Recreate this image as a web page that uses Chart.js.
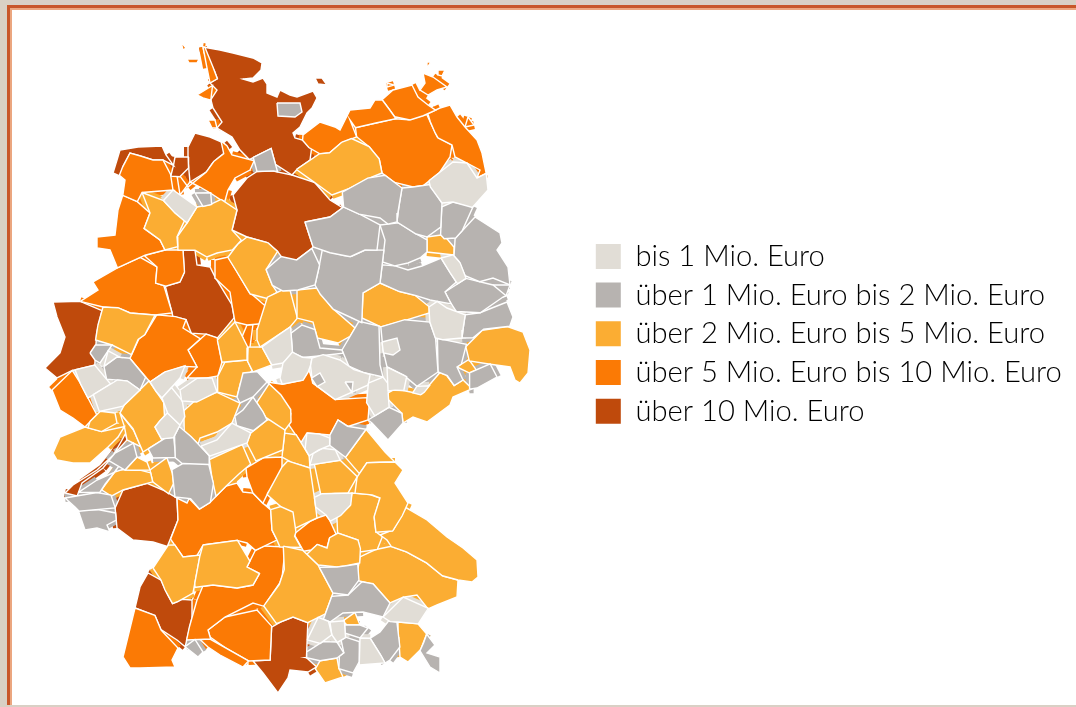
<!DOCTYPE html>
<html>
<head>
<meta charset="utf-8">
<title>Karte</title>
<script src="https://cdn.jsdelivr.net/npm/chart.js@4/dist/chart.umd.min.js"></script>
<style>
html, body { margin: 0; padding: 0; background: #d9d0c5; overflow: hidden; }
#frame { position: absolute; left: 7px; top: 5px; right: 0; height: 700px; box-sizing: border-box; background: #fff;
  border-left: 3px solid #c8562a; border-top: 3px solid #c8562a; box-shadow: inset 2px 2px 0 #eba67f; }
#map { position: absolute; left: 0; top: 0; }
</style>
</head>
<body>
<div id="frame"></div>
<canvas id="map" width="1076" height="707"></canvas>
<script>
var categories = ['bis 1 Mio. Euro', 'über 1 Mio. Euro bis 2 Mio. Euro', 'über 2 Mio. Euro bis 5 Mio. Euro', 'über 5 Mio. Euro bis 10 Mio. Euro', 'über 10 Mio. Euro'];
var colors = ['#e1ddd6', '#b7b3b0', '#fbad33', '#fb7a05', '#bf4a0c'];

// region outlines as x,y pairs on the map's own scale
var bis1 = [
  [430,183,453,162,467,163,477,180,487,175,488,190,473,203,453,200,443,203,430,187],
  [443,257,453,255,462,262,465,277,457,283,450,273],
  [430,307,437,303,447,308,465,313,462,330,460,338,443,337,435,338,430,320],
  [383,342,397,338,400,350,393,355,383,353],
  [415,388,428,385,428,395,420,397,413,392],
  [385,370,405,378,405,387,395,388,390,392,387,390],
  [368,383,383,378,393,387,387,393,387,405,373,413,366,403],
  [313,357,323,353,340,360,353,372,370,375,368,385,337,398,330,393,312,383,310,365],
  [280,378,283,363,293,352,302,358,312,358,312,365,305,370,303,380,282,382],
  [262,347,278,335,292,328,292,352,283,363,273,367],
  [167,200,173,190,197,203,195,213,187,223,173,215],
  [180,390,197,378,213,382,217,392,197,403,183,400],
  [163,400,172,388,182,403,187,417,183,425,168,413],
  [150,383,165,372,185,365,180,378,172,387,162,398,155,393],
  [155,418,167,413,180,425,175,437,163,438,155,427],
  [95,397,117,383,127,382,140,390,120,405,98,410],
  [103,365,107,350,120,357,117,357],
  [75,370,95,367,110,383,90,397,82,383],
  [200,447,217,440,233,425,250,432,247,443,210,455],
  [305,432,320,430,330,438,330,445,317,447,310,455,307,447],
  [313,453,322,447,337,447,340,458,318,463,310,465],
  [317,497,322,493,350,492,352,505,342,517,333,520,325,512,317,507],
  [383,617,403,595,428,608,417,625,397,620,390,620],
  [310,640,318,617,328,623,330,635,320,643],
  [330,623,343,623,345,637,338,642,332,635],
  [360,640,368,640,378,657,382,665,362,667]
];
var ueber1 = [
  [253,157,270,147,273,157,278,170,273,173,257,170],
  [277,103,300,103,302,112,295,117,278,116],
  [195,193,210,195,212,205,203,203],
  [343,195,367,177,383,178,400,187,395,213,397,222,388,225,380,218,360,212,345,205],
  [402,188,413,188,427,185,442,203,440,227,427,237,417,232,397,222,397,205],
  [445,207,453,202,475,208,460,228,455,238,448,237,440,232],
  [475,217,500,233,502,243,497,250,508,267,510,283,493,278,480,280,467,275,460,260,453,257,455,242,460,232],
  [305,222,330,217,343,207,360,215,380,223,377,247,365,248,352,253,330,253,313,247],
  [267,270,280,257,297,262,313,250,320,265,315,285,298,290,283,292,273,285],
  [320,255,345,258,353,258,365,250,382,250,380,283,363,293,362,322,352,318,333,310,317,297,315,285,320,270],
  [380,225,397,225,417,235,427,240,424,252,420,258,408,263,395,262,383,262,385,240],
  [383,265,395,266,408,270,422,266,440,256,445,265,455,283,445,292,452,303,430,300,417,293,400,290,380,283],
  [445,292,467,278,493,283,505,293,503,300,480,312,457,310,450,303],
  [493,285,510,285,508,295,503,297],
  [465,315,480,313,507,302,513,317,512,322,483,325,473,338,462,338,463,327],
  [382,330,405,320,430,322,435,340,437,373,417,387,405,373,387,367,382,350],
  [437,340,465,343,462,365,453,367,465,377,455,385,448,375,438,372],
  [470,373,490,365,497,377,477,388,470,387],
  [371,420,390,407,405,413,400,425,388,440,372,423],
  [293,333,302,325,313,330,320,348,340,350,340,355,317,352,303,358,293,353],
  [342,350,358,323,378,328,380,365,383,377,363,372,350,365],
  [330,435,338,418,347,427,363,427,357,443,345,457,330,447],
  [237,397,243,373,257,372,265,383,253,397,243,400],
  [237,417,243,410,253,397,267,410,267,420,253,430,237,425],
  [103,367,117,357,127,357,143,380,140,390,127,380,108,378],
  [90,353,97,345,112,345,100,363,92,360],
  [112,463,115,453,132,445,137,457,125,470],
  [80,493,97,480,112,470,123,460,135,462,123,470,112,470,103,482,100,490],
  [65,498,97,492,112,493,113,507,103,505,80,510,75,507],
  [77,512,97,505,115,513,118,520,107,525,110,532,97,528,85,530],
  [175,468,183,462,210,465,217,483,210,502,200,510,193,497,177,493],
  [147,447,165,440,173,437,177,447,173,460,153,458],
  [177,437,182,428,190,437,210,457,207,467,182,463,175,457],
  [187,647,195,642,203,652,198,657],
  [320,567,337,567,350,567,358,565,360,580,348,595,335,592,323,578],
  [323,620,333,597,348,595,362,582,373,585,390,603,383,617,363,612,343,613,330,622],
  [422,642,430,635,435,645,427,653,440,657,440,673,430,667,422,653],
  [370,638,380,632,387,623,397,623,402,647,390,660,385,663,380,653],
  [345,625,362,625,368,628,360,638,348,633],
  [308,652,323,642,337,642,343,652,337,657,317,660,310,658],
  [342,642,348,637,358,642,358,662,353,673,340,668,340,657,345,652]
];
// small pieces that sit inside a lighter region
var ueber1Enklaven = [
  [313,378,320,373,325,382,318,385],
  [345,382,353,382,350,388]
];
var ueber2 = [
  [427,237,443,233,447,243,457,248,455,255,427,252],
  [297,170,320,153,330,155,342,142,352,140,368,148,380,158,382,173,370,175,347,188,332,195,313,180],
  [143,193,163,200,165,207,183,223,175,237,175,247,165,250,162,237,143,228,150,213],
  [222,197,237,210,232,230,240,237,227,248,217,253,207,257,197,250,178,250,177,237,187,223,197,207,210,207],
  [480,328,507,323,523,332,530,350,528,373,520,383,515,380,510,367,493,363,470,360,468,347],
  [363,293,380,283,400,292,415,295,428,305,428,313,407,318,380,327,363,318,363,303],
  [457,367,467,360,475,367,468,373],
  [388,390,403,390,423,397,440,372,447,373,455,387,463,380,472,392,453,397,450,405,427,422,413,417,403,423,402,413,388,400],
  [297,290,320,288,332,308,355,328,353,338,338,343,317,338,313,322,298,318],
  [257,340,257,330,267,297,280,293,290,290,297,320,290,328,260,345],
  [233,240,247,237,268,243,277,252,265,270,272,285,277,292,262,297,248,297,235,270,228,258],
  [97,325,103,307,118,305,130,315,155,315,145,335,135,338,128,353,112,345,95,340],
  [218,340,233,325,247,347,247,360,223,362],
  [248,347,262,347,268,367,253,377,248,360],
  [218,378,225,362,247,360,253,370,240,383,237,397,217,392],
  [268,385,280,396,293,408,295,423,285,430,267,417,260,400],
  [187,410,193,407,217,393,240,403,232,423,217,432,200,438,197,445,187,427],
  [250,433,267,420,280,417,285,430,280,450,253,457,248,447],
  [123,403,147,383,162,403,162,413,155,427,162,440,143,452,135,427,120,413],
  [88,420,100,410,115,413,117,423,102,430,88,428],
  [53,453,60,437,85,427,102,432,123,427,118,437,108,447,90,463,73,463,57,460],
  [120,413,135,430,140,447,130,440,125,427],
  [125,470,137,457,147,462,150,470,135,470],
  [103,490,117,473,140,470,150,473,152,482,132,488,122,488,115,495],
  [150,470,167,460,175,473,178,483,168,495,153,483],
  [213,460,243,447,250,463,240,473,227,487,217,497,213,477],
  [203,545,237,542,252,562,245,567,262,573,253,585,237,588,213,583,197,588,195,583,202,557],
  [153,568,168,545,178,543,183,557,200,555,193,593,178,603,173,603,165,590,162,578],
  [283,548,303,550,318,565,333,593,323,613,308,622,293,615,275,622,263,605,280,585,285,570],
  [272,510,280,507,293,512,295,530,293,537,302,547,280,545,277,538,272,530],
  [268,495,280,467,287,462,310,470,315,500,316,515,296,528,280,505],
  [283,433,293,437,310,457,310,468,290,467,283,457],
  [315,468,320,462,343,460,355,475,348,490,335,492,320,493],
  [357,477,367,463,380,463,397,460,403,470,395,483,408,503,400,515,393,532,377,532,375,517,380,498,373,493,355,493],
  [345,458,367,428,385,452,395,462,367,462,357,472],
  [308,553,317,545,327,550,330,538,338,533,358,540,362,548,360,563,345,567,337,567,318,565],
  [337,532,338,520,352,508,352,493,370,493,380,498,373,518,375,532,380,540,377,548,363,552,358,540],
  [380,535,397,532,407,508,427,520,447,537,463,548,477,560,478,577,472,582,460,578,443,575,427,562,407,550,392,545,387,540],
  [360,568,363,557,375,550,390,547,407,552,427,563,443,577,458,580,457,597,437,605,430,610,417,595,403,597,390,603,375,583,360,582],
  [398,622,408,620,418,623,427,633,422,650,408,662,400,657,403,637],
  [343,618,355,613,360,625,347,625],
  [320,660,337,658,338,668,343,677,325,683,317,673]
];
var ueber5 = [
  [181,42,186,48,183,50],
  [187,59,199,59,197,63,189,63],
  [200,47,205,47,212,68,217,78,208,82,207,68],
  [197,95,210,88,212,100,203,98],
  [208,120,215,120,217,128,212,128],
  [122,167,130,152,140,155,153,160,163,158,168,173,172,187,173,190,143,190,138,200,123,195,125,180,120,173],
  [222,137,230,145,232,155,250,162,250,170,235,178,228,190,226,200,218,196,215,193,200,187,187,185,180,195,177,180,182,178,188,187,208,175,214,163,225,155],
  [303,135,320,122,335,127,340,130,350,110,370,108,375,100,382,100,388,112,396,118,375,122,355,127,350,120,355,137,340,142,330,153,320,155,310,147,303,140],
  [382,98,393,90,412,85,418,97,428,105,437,113,423,115,410,120,397,115,383,105],
  [440,108,450,105,457,117,462,127,477,140,482,153,487,173,477,178,480,170,467,163,455,157,453,145,437,140,433,133,433,120,428,114],
  [423,73,433,77,447,87,437,90,428,95,420,90,425,83],
  [438,70,445,70,442,76,438,75],
  [427,62,431,62,427,68],
  [468,117,474,125,465,127],
  [387,83,394,85,387,87],
  [355,128,363,123,370,128,377,122,395,118,408,122,427,115,435,127,435,138,452,145,450,157,440,173,423,183,413,187,395,182,382,173,382,160,370,147,357,138],
  [122,195,140,203,150,213,143,230,160,240,165,250,145,255,117,267,110,250,97,248,97,237,115,235,118,210],
  [143,253,165,250,183,250,185,272,180,282,165,283,155,283,158,267],
  [80,302,98,290,93,282,117,268,140,257,157,267,155,285,163,288,172,313,155,315,130,313,120,307,103,307],
  [215,260,230,258,247,293,270,310,270,323,247,325,235,322,234,305,230,292,217,277],
  [247,325,253,325,250,345,245,350,245,335],
  [128,360,138,337,147,335,157,317,175,318,187,317,183,328,200,338,187,350,197,367,183,365,163,372,150,382,137,370],
  [188,350,205,337,217,337,222,363,220,377,207,380,187,378,197,367],
  [52,390,73,372,80,383,95,413,85,427,73,418,60,410],
  [267,382,280,385,303,382,310,370,312,385,327,393,337,403,363,397,365,410,368,420,348,427,338,420,330,435,307,432,302,442,292,428,297,413,280,393],
  [245,467,262,453,282,457,282,478,268,492,262,505,253,492,247,477],
  [178,498,187,503,190,495,198,510,210,503,225,485,237,483,243,492,253,493,262,503,270,507,272,530,277,540,257,552,247,543,237,540,203,543,197,555,183,557,173,540,178,520],
  [197,600,203,588,213,585,237,588,253,585,262,577,260,572,247,567,253,553,263,543,287,547,288,560,280,575,282,583,267,600,263,607,253,603,225,617,207,630,210,640,187,640,190,627],
  [123,657,133,610,155,615,160,632,178,648,172,660,175,667,140,668,130,668],
  [200,640,210,638,247,663,243,667,220,655,208,647],
  [208,630,225,617,257,610,270,623,270,660,250,662,227,645,210,637],
  [293,532,312,525,317,518,323,517,330,520,335,532,328,538,327,548,318,543,308,547,303,552,293,535]
];
var ueber10 = [
  [203,47,220,50,233,53,253,58,262,63,261,70,253,78,243,79,253,82,263,78,267,84,267,93,277,97,280,90,290,95,297,97,313,91,317,98,312,108,307,113,300,127,293,133,295,138,302,140,310,152,308,157,297,168,293,173,273,165,273,147,260,157,250,157,240,150,232,137,217,128,222,122,213,108,210,103,217,90,210,83,220,78,217,70,203,53],
  [315,78,322,78,327,85,318,84],
  [113,173,117,160,120,150,138,147,162,146,166,155,171,165,163,160,153,160,141,156,130,153,122,165,122,175],
  [175,157,187,157,188,168,180,178,167,177,173,168],
  [195,133,210,137,227,140,228,150,220,158,210,162,207,172,190,182,188,165,188,147],
  [233,195,247,178,255,172,272,170,292,175,313,185,330,200,342,207,330,217,305,222,308,237,313,248,297,260,285,262,280,253,267,240,247,237,232,230,237,210],
  [183,250,195,250,197,265,210,267,213,277,232,305,232,318,218,338,205,333,190,335,187,320,173,315,165,287,180,283,185,273],
  [53,302,77,300,100,310,95,333,95,365,73,370,57,378,45,368,60,353,65,337,57,317],
  [65,493,73,485,97,470,110,452,122,440,127,433,127,440,113,455,103,468,82,483,77,495],
  [115,510,123,490,147,483,163,493,177,498,178,520,168,547,153,542,133,540,117,528],
  [135,608,140,587,148,573,162,580,165,597,173,605,182,600,192,600,190,617,185,647,177,640,160,630,157,615],
  [253,665,272,660,273,627,280,618,293,617,308,623,306,660,315,667,308,672,290,670,288,678,278,693,263,673]
];

// first dataset is painted last, so the order here is top to bottom
var groups = [
  { polys: ueber1Enklaven, color: colors[1] },
  { polys: bis1, color: colors[0] },
  { polys: ueber1, color: colors[1] },
  { polys: ueber2, color: colors[2] },
  { polys: ueber5, color: colors[3] },
  { polys: ueber10, color: colors[4] }
];

function toPoints(flat) {
  var pts = [];
  for (var i = 0; i < flat.length; i += 2) {
    pts.push({ x: flat[i], y: flat[i + 1] });
  }
  return pts;
}

// nearest point on segment a-b
function closest(p, a, b) {
  var dx = b.x - a.x, dy = b.y - a.y;
  var len = dx * dx + dy * dy;
  var t = len ? ((p.x - a.x) * dx + (p.y - a.y) * dy) / len : 0;
  t = Math.max(0, Math.min(1, t));
  return { x: a.x + t * dx, y: a.y + t * dy };
}

// nearest point of any other shape, null if nothing within tol
function nearestOther(p, shapes, si, tol) {
  var best = null, bestD = tol;
  shapes.forEach(function(o, oi) {
    if (oi === si) return;
    o.pts.forEach(function(a, k) {
      var c = closest(p, a, o.pts[(k + 1) % o.pts.length]);
      var d = Math.hypot(c.x - p.x, c.y - p.y);
      if (d < bestD) { bestD = d; best = c; }
    });
  });
  return best;
}

// hand-read outlines don't quite meet, pull each corner onto the neighbour's edge
function closeGaps(shapes, tol, passes) {
  for (var n = 0; n < passes; n++) {
    shapes.forEach(function(s, si) {
      s.pts.forEach(function(p) {
        var c = nearestOther(p, shapes, si, tol);
        if (c) { p.x = c.x; p.y = c.y; }
      });
    });
  }
}

function signedArea(pts) {
  var a = 0;
  pts.forEach(function(p, k) {
    var q = pts[(k + 1) % pts.length];
    a += p.x * q.y - q.x * p.y;
  });
  return a / 2;
}

var shapes = [];
groups.forEach(function(g) {
  g.polys.forEach(function(p) {
    shapes.push({ pts: toPoints(p), color: g.color });
  });
});
closeGaps(shapes, 4.5, 2);

var datasets = shapes.map(function(s) {
  return {
    data: s.pts.concat([s.pts[0]]),
    showLine: true,
    fill: 'shape',
    backgroundColor: s.color,
    borderColor: '#ffffff',
    borderWidth: 1.4,
    pointRadius: 0,
    tension: 0
  };
});

// thick own-colour edge under the inland sides only, fills what is left between neighbours.
// a side counts as inland when a probe just outside it lands close to another region
shapes.forEach(function(s, si) {
  var sign = signedArea(s.pts) > 0 ? 1 : -1;
  var inland = s.pts.map(function(p, k) {
    var q = s.pts[(k + 1) % s.pts.length];
    var len = Math.hypot(q.x - p.x, q.y - p.y) || 1;
    var probe = {
      x: (p.x + q.x) / 2 + sign * (q.y - p.y) / len * 4,
      y: (p.y + q.y) / 2 - sign * (q.x - p.x) / len * 4
    };
    return !!nearestOther(probe, shapes, si, 4);
  });
  s.pts.forEach(function(p, k) {
    if (!inland[k]) return;
    datasets.push({
      data: [p, s.pts[(k + 1) % s.pts.length]],
      showLine: true,
      fill: false,
      borderColor: s.color,
      borderWidth: 8,
      borderCapStyle: 'butt',
      pointRadius: 0,
      tension: 0
    });
  });
});

// moves the legend next to the map, the library would otherwise pin it to the chart area corner
var legendPlace = {
  id: 'legendPlace',
  afterLayout: function(chart) {
    var l = chart.legend;
    l.left = 586.3;
    l.top = 232.3;
    l.right = 1076;
    l.bottom = 707;
  }
};

new Chart(document.getElementById('map'), {
  type: 'scatter',
  data: { datasets: datasets },
  plugins: [legendPlace],
  options: {
    responsive: false,
    animation: false,
    events: [],
    layout: { padding: 0 },
    scales: {
      x: { type: 'linear', display: false, min: 0, max: 1076 },
      y: { type: 'linear', display: false, min: 0, max: 707, reverse: true }
    },
    plugins: {
      tooltip: { enabled: false },
      legend: {
        position: 'chartArea',
        align: 'start',
        labels: {
          boxWidth: 25,
          boxHeight: 25,
          padding: 9.5,
          color: '#444444',
          font: { family: 'Lato', weight: '300', size: 29.2 },
          generateLabels: function() {
            return categories.map(function(c, i) {
              return { text: c, fillStyle: colors[i], strokeStyle: colors[i], lineWidth: 0, hidden: false };
            });
          }
        }
      }
    }
  }
});
</script>
</body>
</html>
